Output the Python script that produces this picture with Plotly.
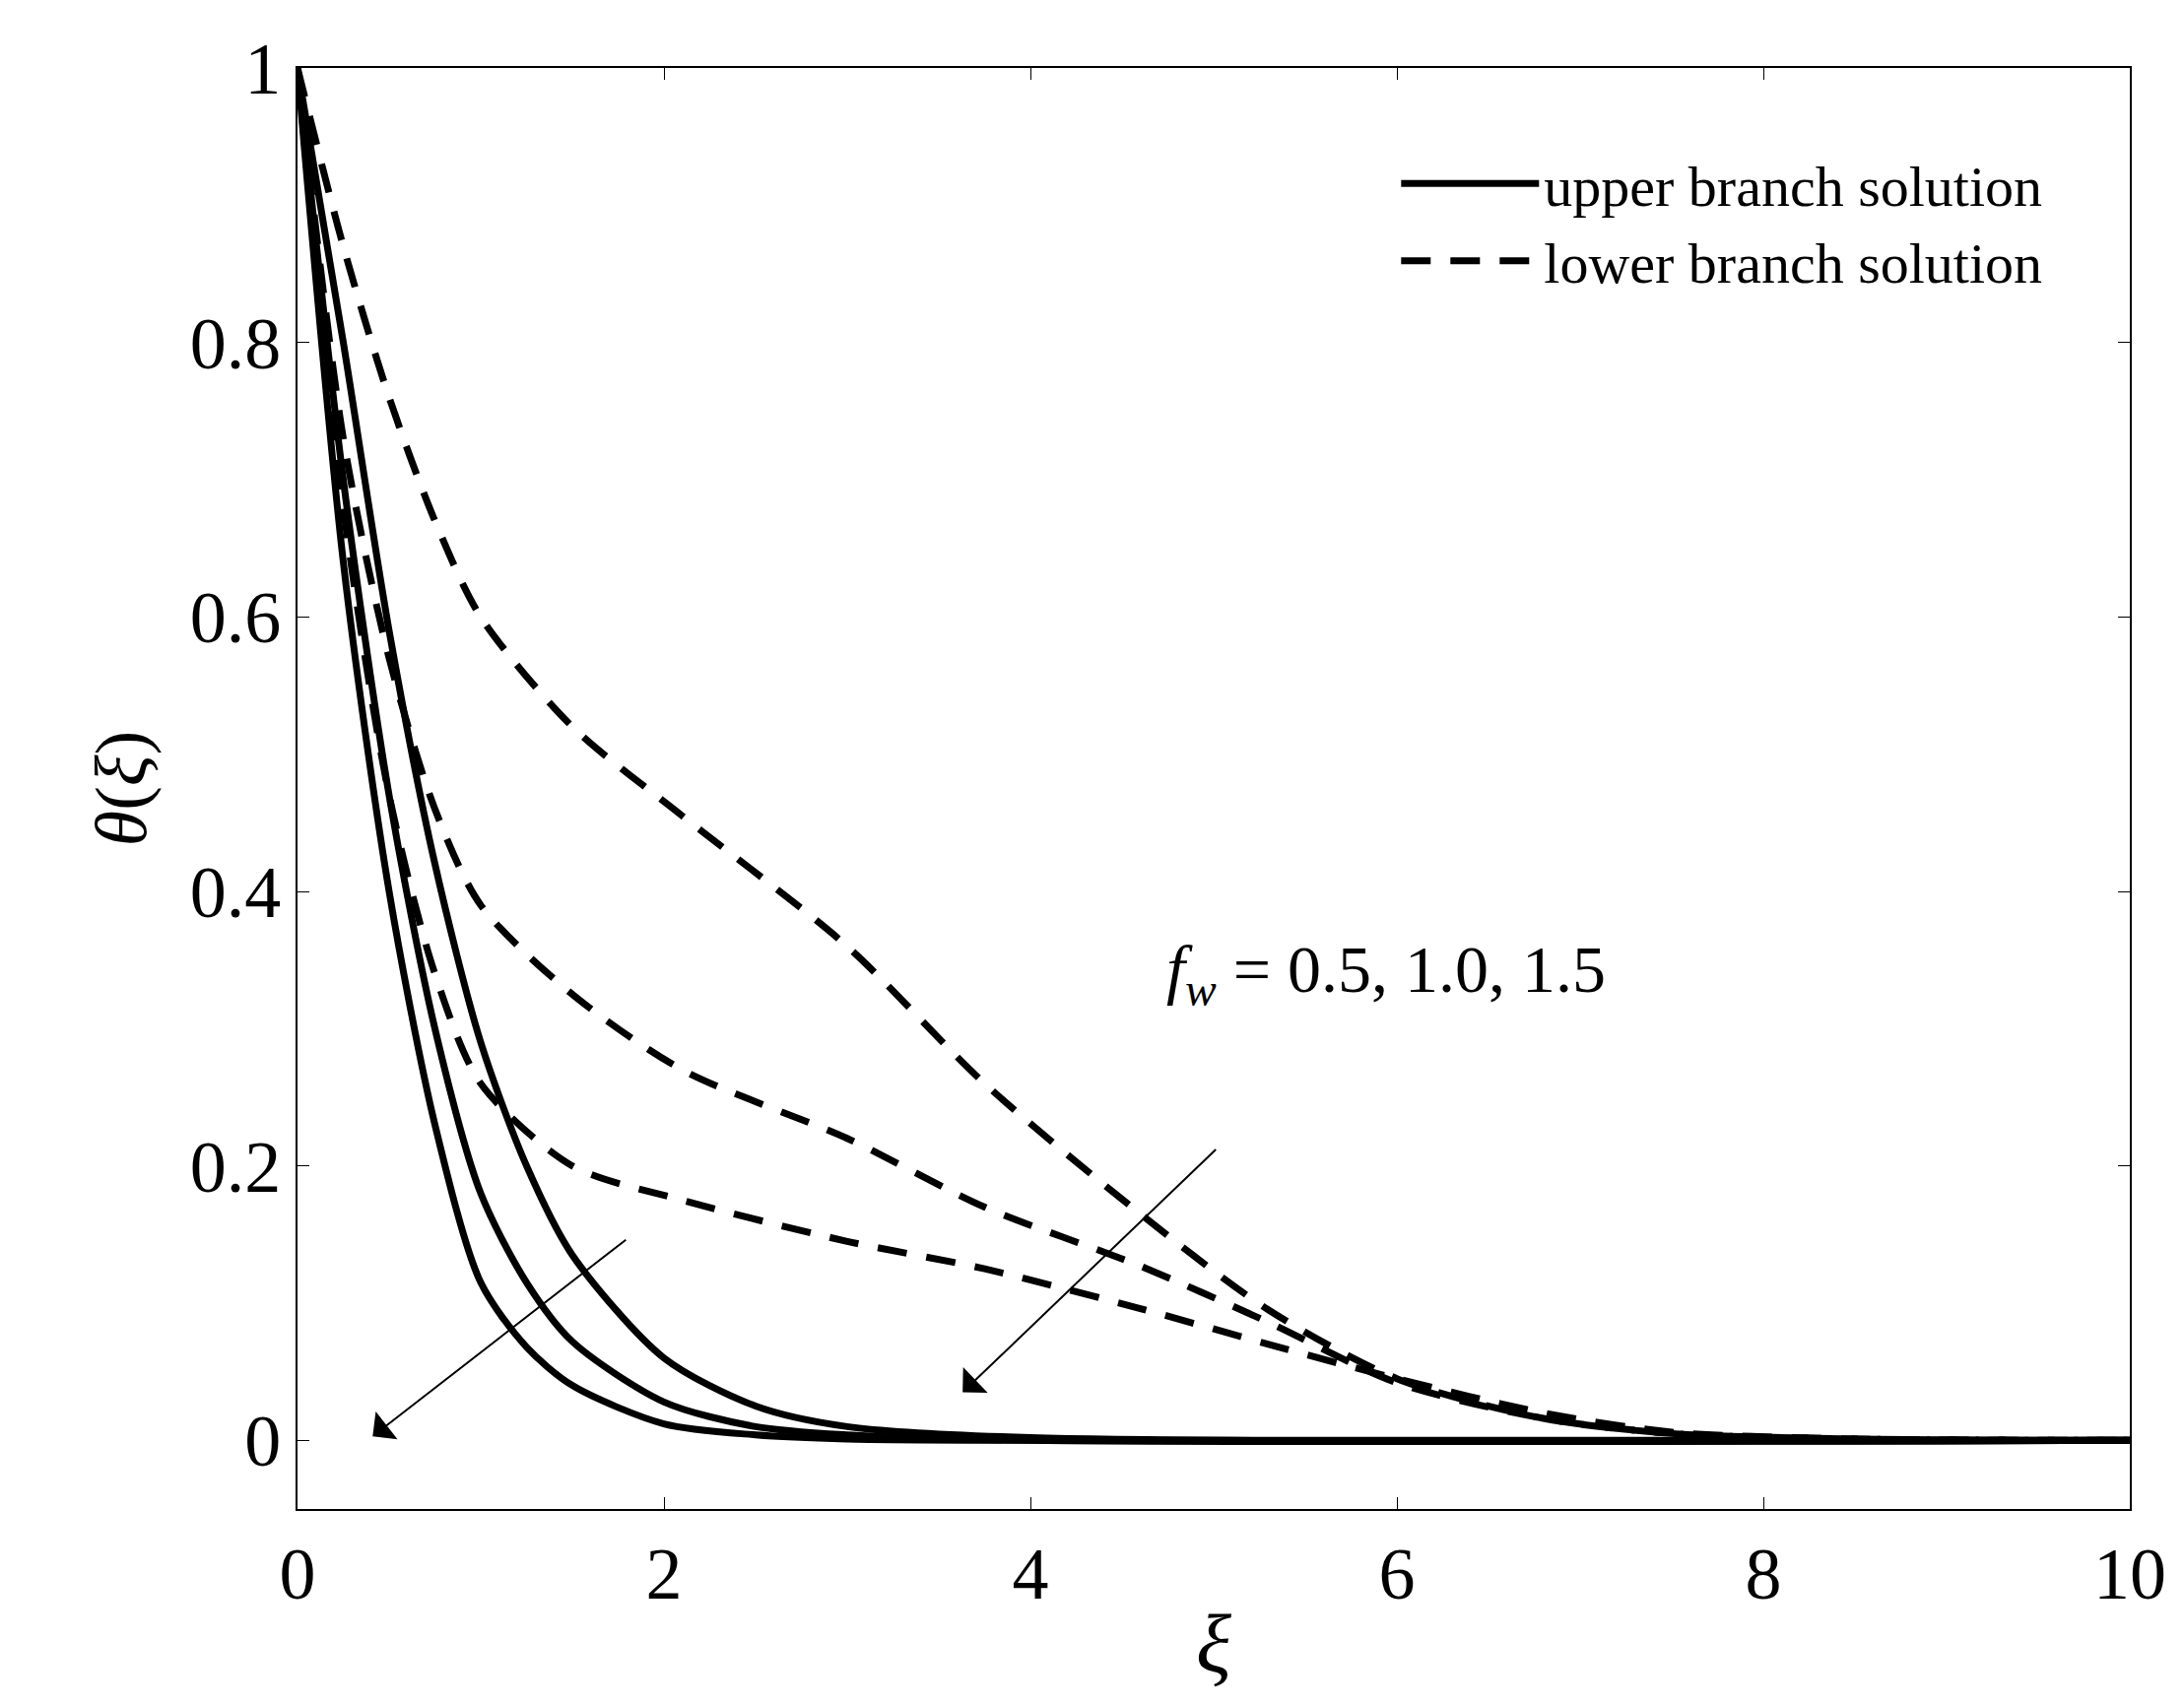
import plotly.graph_objects as go

xu = [0, 0.25, 0.5, 0.75, 1, 1.25, 1.5, 2, 2.5, 3, 4, 10]
upper_15 = [1, 0.64, 0.40, 0.23, 0.115, 0.068, 0.04, 0.012, 0.004, 0.001, 0, 0]
upper_10 = [1, 0.70, 0.47, 0.30, 0.18, 0.115, 0.072, 0.028, 0.01, 0.004, 0, 0]
upper_05 = [1, 0.80, 0.59, 0.42, 0.29, 0.20, 0.135, 0.06, 0.025, 0.01, 0.002, 0]

xl = [0, 0.25, 0.5, 0.75, 1, 1.5, 2.1, 3, 3.75, 4.6, 5.3, 6, 6.8, 7.5, 8.5, 10]
lower_05 = [1, 0.87, 0.76, 0.67, 0.60, 0.52, 0.455, 0.36, 0.26, 0.165, 0.095, 0.045, 0.016, 0.005, 0.001, 0]
lower_10 = [1, 0.73, 0.57, 0.46, 0.39, 0.325, 0.27, 0.22, 0.17, 0.127, 0.086, 0.042, 0.016, 0.005, 0.001, 0]
lower_15 = [1, 0.68, 0.47, 0.34, 0.26, 0.2, 0.175, 0.145, 0.125, 0.096, 0.07, 0.045, 0.02, 0.006, 0.001, 0]

font = "Liberation Serif"
fig = go.Figure()
for i, y in enumerate([upper_05, upper_10, upper_15]):
    fig.add_trace(go.Scatter(x=xu, y=y, mode="lines", line=dict(color="black", width=7, shape="spline", smoothing=0.8),
                             name="upper branch solution", showlegend=(i == 0), legendrank=1))
for i, y in enumerate([lower_05, lower_10, lower_15]):
    fig.add_trace(go.Scatter(x=xl, y=y, mode="lines", line=dict(color="black", width=7, dash="30px,20px", shape="spline", smoothing=0.8),
                             name="lower branch solution", showlegend=(i == 0), legendrank=2))

fig.add_annotation(x=0.41, y=0.003, ax=1.8, ay=0.147, xref="x", yref="y", axref="x", ayref="y",
                   showarrow=True, arrowhead=1, arrowsize=3, arrowwidth=2, arrowcolor="black", text="")
fig.add_annotation(x=3.63, y=0.035, ax=5.02, ay=0.213, xref="x", yref="y", axref="x", ayref="y",
                   showarrow=True, arrowhead=1, arrowsize=3, arrowwidth=2, arrowcolor="black", text="")
fig.add_annotation(x=4.73, y=0.34, xanchor="left", showarrow=False,
                   text="<i>f<sub>w</sub></i> = 0.5, 1.0, 1.5", font=dict(family=font, size=68, color="black"))

axis = dict(showline=True, linecolor="black", linewidth=2, mirror="ticks", ticks="inside",
            ticklen=12, tickcolor="black", showgrid=False, zeroline=False,
            tickfont=dict(family=font, size=74, color="black"))
fig.update_xaxes(range=[0, 10], tickvals=[0, 2, 4, 6, 8, 10], **axis,
                 title=dict(text="<i>ξ</i>", font=dict(family=font, size=84, color="black"), standoff=0))
fig.update_yaxes(range=[-0.05, 1], tickvals=[0, 0.2, 0.4, 0.6, 0.8, 1], ticktext=["0", "0.2", "0.4", "0.6", "0.8", "1"], **axis,
                 title=dict(text="<i>θ</i>(<i>ξ</i>)", font=dict(family=font, size=74, color="black"), standoff=20))
fig.update_layout(width=2217, height=1731, plot_bgcolor="white", paper_bgcolor="white",
                  margin=dict(l=294, r=63, t=61, b=207),
                  legend=dict(x=0.955, y=0.95, xanchor="right", yanchor="top", bgcolor="rgba(0,0,0,0)",
                              font=dict(family=font, size=58, color="black"), itemwidth=140, tracegroupgap=10))
fig.write_html("out.html")
